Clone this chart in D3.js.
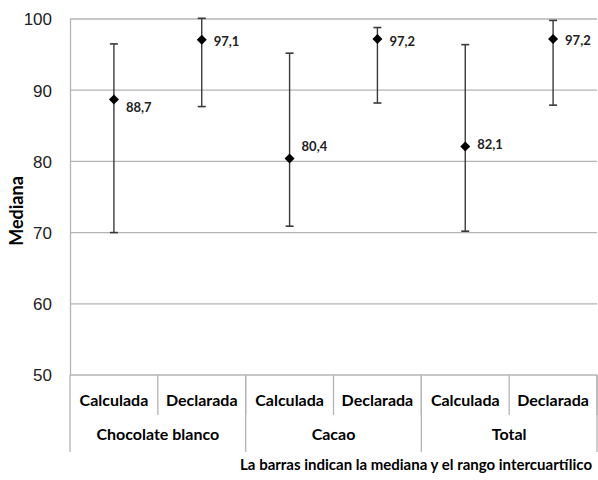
<!DOCTYPE html>
<html>
<head>
<meta charset="utf-8">
<script src="https://cdn.jsdelivr.net/npm/d3@7"></script>
<style>
  body { margin: 0; background: #fff; }
  svg { font-family: Lato, "Open Sans", sans-serif; }
</style>
</head>
<body>
<div id="chart"></div>
<script>
const groups = ["Chocolate blanco", "Cacao", "Total"]
const kinds = ["Calculada", "Declarada"]
const medians = [88.7, 97.1, 80.4, 97.2, 82.1, 97.2]
const q1 = [70.0, 87.7, 70.9, 88.2, 70.2, 87.9]
const q3 = [96.5, 100.1, 95.2, 98.8, 96.4, 99.8]
const yTicks = [50, 60, 70, 80, 90, 100]

// label nudges (px), as placed in the original
const labelDy = [8, 2, -12, 3, -2, 2]

const W = 598, H = 480
const margin = {top: 19, right: 1, bottom: 105, left: 70}
const w = W - margin.left - margin.right,
      h = H - margin.top - margin.bottom

const slots = []
groups.forEach(g => kinds.forEach(k => slots.push(g + "|" + k)))

const svg = d3.select("#chart").append("svg")
    .attr("width", W).attr("height", H)

const g = svg.append("g")
    .attr("transform", `translate(${margin.left},${margin.top})`)

const x = d3.scaleBand().domain(slots).range([0, w])
const y = d3.scaleLinear().domain([50, 100]).range([h, 0])

// gridlines
g.append("g")
    .selectAll("line")
    .data(yTicks)
    .join("line")
    .attr("x1", 0).attr("x2", w)
    .attr("y1", d => y(d)).attr("y2", d => y(d))
    .style("stroke", "#b4b4b4")
    .style("stroke-width", 1.3)

// y axis
const yAxis = g.append("g")
    .call(d3.axisLeft(y).tickValues(yTicks).tickSize(0).tickPadding(18))
yAxis.select(".domain").style("stroke", "#b4b4b4").style("stroke-width", 1.3)
yAxis.selectAll("text")
    .style("font-size", "17px")
    .style("fill", "#222")
    .attr("dy", "0.35em")

svg.append("text")
    .attr("transform", `translate(23,211) rotate(-90)`)
    .attr("text-anchor", "middle")
    .style("font-size", "18px")
    .style("font-weight", "bold")
    .text("Mediana")

// category axis: inner dividers and labels
const inner = g.append("g").attr("transform", `translate(0,${h})`)
inner.selectAll("line.inner")
    .data(slots)
    .join("line")
    .attr("class", "inner")
    .attr("x1", d => x(d) + x.bandwidth()).attr("x2", d => x(d) + x.bandwidth())
    .attr("y1", 0).attr("y2", 40)
    .style("stroke", "#b4b4b4").style("stroke-width", 1.3)

inner.selectAll("text.kind")
    .data(slots)
    .join("text")
    .attr("class", "kind")
    .attr("x", d => x(d) + x.bandwidth() / 2)
    .attr("y", 31)
    .attr("text-anchor", "middle")
    .style("font-size", "16px")
    .style("font-weight", "bold")
    .text(d => d.split("|")[1])

const groupEdges = [0].concat(groups.map(gr => x(gr + "|" + kinds[kinds.length - 1]) + x.bandwidth()))
inner.selectAll("line.outer")
    .data(groupEdges)
    .join("line")
    .attr("class", "outer")
    .attr("x1", d => d).attr("x2", d => d)
    .attr("y1", 0).attr("y2", 77)
    .style("stroke", "#b4b4b4").style("stroke-width", 1.3)

inner.selectAll("text.group")
    .data(groups)
    .join("text")
    .attr("class", "group")
    .attr("x", d => (x(d + "|" + kinds[0]) + x(d + "|" + kinds[1]) + x.bandwidth()) / 2)
    .attr("y", 65)
    .attr("text-anchor", "middle")
    .style("font-size", "16px")
    .style("font-weight", "bold")
    .text(d => d)

// error bars
const pts = slots.map((s, i) => ({slot: s, m: medians[i], lo: q1[i], hi: q3[i], dy: labelDy[i]}))
const cx = d => x(d.slot) + x.bandwidth() / 2

const bars = g.append("g").selectAll("g").data(pts).join("g")
bars.append("line")
    .attr("x1", cx).attr("x2", cx)
    .attr("y1", d => y(d.lo)).attr("y2", d => y(d.hi))
    .style("stroke", "#3a3a3a").style("stroke-width", 1.4)
bars.selectAll("line.cap")
    .data(d => [d.lo, d.hi].map(v => ({c: cx(d), v})))
    .join("line")
    .attr("class", "cap")
    .attr("x1", d => d.c - 4).attr("x2", d => d.c + 4)
    .attr("y1", d => y(d.v)).attr("y2", d => y(d.v))
    .style("stroke", "#3a3a3a").style("stroke-width", 1.6)

bars.append("path")
    .attr("d", d3.symbol(d3.symbolSquare, 50))
    .attr("transform", d => `translate(${cx(d)},${y(d.m)}) rotate(45)`)
    .style("fill", "#000")

bars.append("text")
    .attr("x", d => cx(d) + 12)
    .attr("y", d => y(d.m) + d.dy)
    .attr("dy", "0.35em")
    .style("font-size", "13px")
    .style("font-weight", "bold")
    .style("fill", "#222")
    .text(d => d3.format(".1f")(d.m).replace(".", ","))

svg.append("text")
    .attr("x", 592).attr("y", 470)
    .attr("text-anchor", "end")
    .style("font-size", "15px")
    .style("font-weight", "bold")
    .text("La barras indican la mediana y el rango intercuartílico")
</script>
</body>
</html>
